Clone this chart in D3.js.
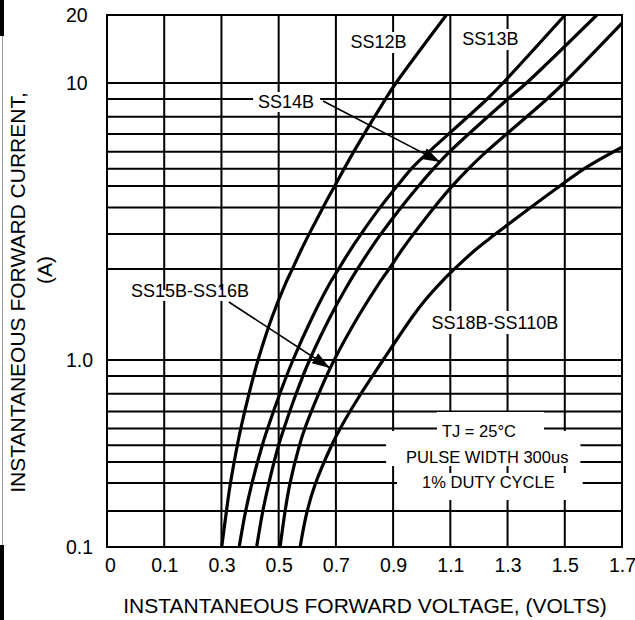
<!DOCTYPE html>
<html><head><meta charset="utf-8">
<script src="https://cdn.jsdelivr.net/npm/d3@7"></script>
<style>
body{margin:0;background:#fff}
svg{display:block}
text{font-family:"Liberation Sans",Arial,Helvetica,sans-serif;fill:#000}
</style>
</head><body>
<svg id="c" width="635" height="620"></svg>
<script>
// ---- data ----
const xTickValues = [-0.1, 0.1, 0.3, 0.5, 0.7, 0.9, 1.1, 1.3, 1.5, 1.7];
const xTickLabels = ["0", "0.1", "0.3", "0.5", "0.7", "0.9", "1.1", "1.3", "1.5", "1.7"];
const yTickValues = [0.1, 1, 10, 20];
const yTickLabels = ["0.1", "1.0", "10", "20"];
const yGridValues = [0.156, 0.22, 0.285, 0.35, 0.43, 0.53, 0.66, 0.82, 1,
                     2.13, 2.85, 3.55, 4.25, 4.9, 5.65, 6.55, 7.55, 8.75, 10];

// [forward voltage (V), forward current (A)]
const ss12b = [[0.301,0.1],[0.317,0.154],[0.331,0.217],[0.355,0.347],[0.368,0.433],[0.397,0.666],
  [0.428,1.0],[0.477,1.43],[0.525,1.90],[0.546,2.11],[0.579,2.50],[0.605,2.83],[0.656,3.57],
  [0.696,4.25],[0.762,5.64],[0.871,8.68],[0.910,10],[1.086,20]];
const ss13b = [[0.362,0.1],[0.384,0.154],[0.406,0.217],[0.442,0.347],[0.462,0.433],[0.505,0.666],
  [0.550,1.0],[0.618,1.43],[0.680,1.90],[0.707,2.11],[0.751,2.50],[0.786,2.83],[0.856,3.57],
  [0.914,4.25],[0.970,4.98],[1.025,5.64],[1.225,8.68],[1.284,10],[1.501,20]];
const ss14b = [[0.423,0.1],[0.444,0.154],[0.465,0.217],[0.499,0.347],[0.519,0.433],[0.562,0.666],
  [0.608,1.0],[0.680,1.43],[0.746,1.90],[0.773,2.11],[0.819,2.50],[0.855,2.83],[0.929,3.57],
  [0.989,4.25],[1.047,4.98],[1.097,5.64],[1.297,8.68],[1.366,10],[1.612,20]];
const ss15b16b = [[0.505,0.1],[0.522,0.154],[0.539,0.217],[0.572,0.347],[0.592,0.433],[0.641,0.666],
  [0.694,1.0],[0.777,1.43],[0.852,1.90],[0.883,2.11],[0.931,2.50],[0.969,2.83],[1.045,3.57],
  [1.107,4.25],[1.170,4.98],[1.225,5.64],[1.434,8.68],[1.497,10],[1.700,18.4]];
const ss18b110b = [[0.575,0.1],[0.599,0.154],[0.628,0.217],[0.684,0.347],[0.716,0.433],[0.789,0.666],
  [0.865,1.0],[0.967,1.43],[1.013,1.65],[1.066,1.90],[1.110,2.11],[1.188,2.50],[1.254,2.83],
  [1.383,3.57],[1.483,4.25],[1.578,4.98],[1.700,5.87]];
const seriesList = [ss12b, ss13b, ss14b, ss15b16b, ss18b110b];

// labels: text, [V, A] anchor (middle/baseline), font size, mask padding [l,r,t,b]
const labels = [
  {t:"SS12B", v:0.849, a:14.29, fs:18, pad:[3,3,0,1]},
  {t:"SS13B", v:1.240, a:14.73, fs:18, pad:[2,2,0,1]},
  {t:"SS14B", v:0.526, a:8.124, fs:18, pad:[5,6,0,0]},
  {t:"SS15B-SS16B", v:0.190, a:1.689, fs:18, pad:[3,3,-9,0]},
  {t:"SS18B-SS110B", v:1.256, a:1.294, fs:18, pad:[3,3,2,1]},
  {t:"TJ = 25\u00B0C", v:1.200, a:0.3876, fs:16.5, pad:[5,28,10,0]},
  {t:"PULSE WIDTH 300us", v:1.229, a:0.2813, fs:16.5, pad:[20,12,17,0]},
  {t:"1% DUTY CYCLE", v:1.233, a:0.2068, fs:16.5, pad:[25,28,0,9]}
];
// leader arrows: from [V,A] to [V,A]
const leaders = [
  {from:[0.655, 8.61], to:[1.064, 5.19]},
  {from:[0.326, 1.62], to:[0.679, 0.906]}
];

// ---- chart ----
const svg = d3.select("#c");
const L = 107, R = 622, T = 15, B = 547;
const x = d3.scaleLinear().domain([-0.1, 1.7]).range([L, R]);
const y = d3.scaleLog().domain([0.1, 1, 10, 20]).range([B, 360, 83, T]);

// left-edge scan artifacts
svg.append("rect").attr("x",0).attr("y",0).attr("width",4).attr("height",36).attr("fill","#000");
svg.append("rect").attr("x",0).attr("y",545).attr("width",4).attr("height",75).attr("fill","#000");
svg.append("line").attr("x1",2.5).attr("x2",2.5).attr("y1",36).attr("y2",545).attr("stroke","#999").attr("stroke-width",1);

const grid = svg.append("g").attr("stroke","#000").attr("stroke-width",2);
grid.selectAll("line.h").data(yGridValues).join("line").attr("class","h")
  .attr("x1",L).attr("x2",R).attr("y1",d=>y(d)).attr("y2",d=>y(d));
grid.selectAll("line.v").data(xTickValues.slice(1,-1)).join("line").attr("class","v")
  .attr("x1",d=>x(d)).attr("x2",d=>x(d)).attr("y1",T).attr("y2",B);
grid.append("rect").attr("x",L).attr("y",T).attr("width",R-L).attr("height",B-T).attr("fill","none");

const maskG = svg.append("g");
const curveG = svg.append("g");
const leadG = svg.append("g");
const labG = svg.append("g");

labels.forEach(lb => {
  const t = labG.append("text").attr("x", x(lb.v)).attr("y", y(lb.a))
    .attr("text-anchor","middle").attr("font-size", lb.fs).text(lb.t);
  const bb = t.node().getBBox();
  maskG.append("rect")
    .attr("x", bb.x - lb.pad[0]).attr("y", bb.y - lb.pad[2])
    .attr("width", bb.width + lb.pad[0] + lb.pad[1])
    .attr("height", bb.height + lb.pad[2] + lb.pad[3])
    .attr("fill","#fff");
});

// curves
svg.append("clipPath").attr("id","plotclip").append("rect")
  .attr("x",L).attr("y",T).attr("width",R-L).attr("height",B-T);
const line = d3.line().x(d=>x(d[0])).y(d=>y(d[1])).curve(d3.curveCatmullRom.alpha(0.5));
curveG.attr("clip-path","url(#plotclip)").selectAll("path").data(seriesList).join("path")
  .attr("d", line).attr("fill","none").attr("stroke","#000").attr("stroke-width",3.2)
  .attr("stroke-linecap","round").attr("stroke-linejoin","round");

// arrows
svg.append("defs").append("marker").attr("id","ah")
  .attr("viewBox","0 0 18 12").attr("refX",18).attr("refY",6)
  .attr("markerWidth",18).attr("markerHeight",12).attr("markerUnits","userSpaceOnUse")
  .attr("orient","auto")
  .append("path").attr("d","M0,0 L18,6 L0,12 Z").attr("fill","#000");
leadG.selectAll("line").data(leaders).join("line")
  .attr("x1",d=>x(d.from[0])).attr("y1",d=>y(d.from[1]))
  .attr("x2",d=>x(d.to[0])).attr("y2",d=>y(d.to[1]))
  .attr("stroke","#000").attr("stroke-width",1.6).attr("marker-end","url(#ah)");

// axes
const xAxis = d3.axisBottom(x).tickValues(xTickValues).tickSize(0)
  .tickFormat((d,i)=>xTickLabels[i]);
const xg = svg.append("g").attr("transform",`translate(0,${B})`).call(xAxis);
xg.select(".domain").remove();
xg.selectAll("text").attr("y",25).attr("dy",0).attr("font-size",19.5)
  .attr("font-family",'"Liberation Sans",Arial,sans-serif').attr("fill","#000")
  .attr("dx",(d,i)=> i===0 ? 3 : 0);

const yAxis = d3.axisLeft(y).tickValues(yTickValues).tickSize(0)
  .tickFormat((d,i)=>yTickLabels[i]);
const yg = svg.append("g").attr("transform",`translate(${L},0)`).call(yAxis);
yg.select(".domain").remove();
yg.selectAll("text").attr("x",66-L).attr("text-anchor","start").attr("font-size",19.5)
  .attr("font-family",'"Liberation Sans",Arial,sans-serif').attr("fill","#000");

// titles
svg.append("text").attr("x",365).attr("y",613).attr("text-anchor","middle")
  .attr("font-size",21).text("INSTANTANEOUS FORWARD VOLTAGE, (VOLTS)");
svg.append("text").attr("transform","translate(25,292.5) rotate(-90)").attr("text-anchor","middle")
  .attr("font-size",21).text("INSTANTANEOUS FORWARD CURRENT,");
svg.append("text").attr("transform","translate(52,270) rotate(-90)").attr("text-anchor","middle")
  .attr("font-size",21).text("(A)");
</script>
</body></html>
